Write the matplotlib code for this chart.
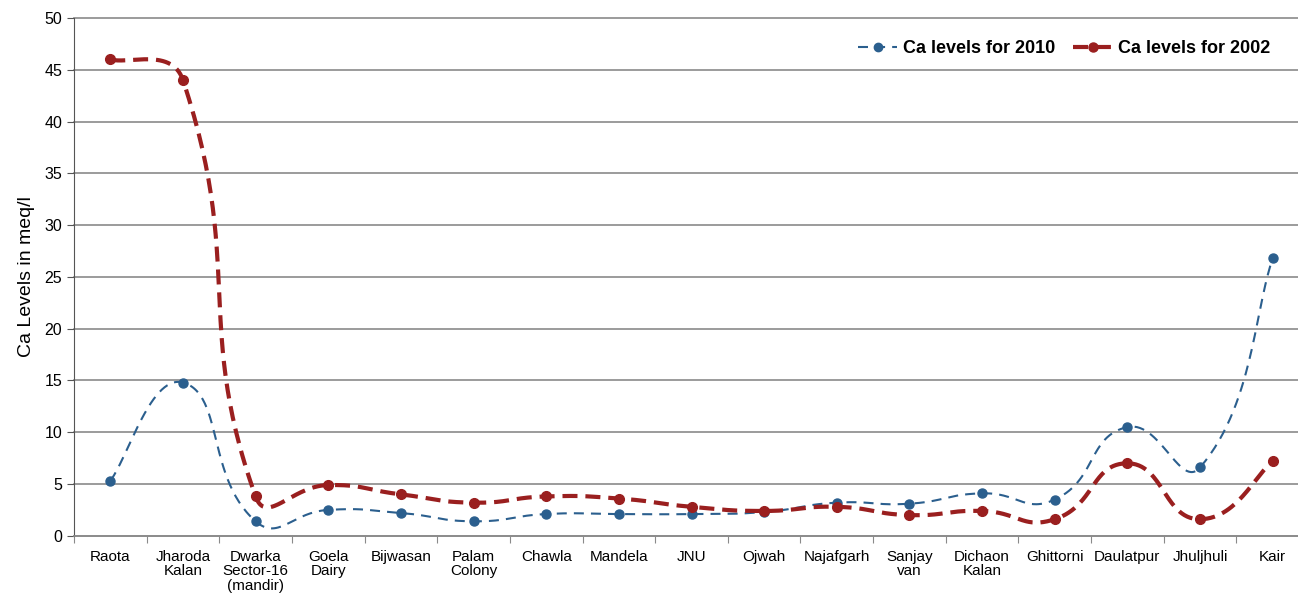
import numpy as np
import matplotlib.pyplot as plt
from matplotlib.lines import Line2D

plt.rcParams['font.family'] = ['Liberation Sans', 'DejaVu Sans']

sites = ['Raota', 'Jharoda\nKalan', 'Dwarka\nSector-16\n(mandir)', 'Goela\nDairy', 'Bijwasan',
         'Palam\nColony', 'Chawla', 'Mandela', 'JNU', 'Ojwah', 'Najafgarh', 'Sanjay\nvan',
         'Dichaon\nKalan', 'Ghittorni', 'Daulatpur', 'Jhuljhuli', 'Kair']
ca_2010 = [5.3, 14.8, 1.4, 2.5, 2.2, 1.4, 2.1, 2.1, 2.1, 2.3, 3.2, 3.1, 4.1, 3.5, 10.5, 6.6, 26.8]
ca_2002 = [46.0, 44.0, 3.8, 4.9, 4.0, 3.2, 3.8, 3.6, 2.8, 2.4, 2.8, 2.0, 2.4, 1.6, 7.0, 1.6, 7.2]


def smooth(ax, x, y, tension=0.5, n=60):
    # bezier smoothing in screen space, tangents scaled by neighbouring chord lengths
    pts = ax.transData.transform(np.column_stack([x, y]))
    m = len(pts)
    c_in = pts.copy()
    c_out = pts.copy()
    for i in range(m):
        prv = pts[max(i - 1, 0)]
        nxt = pts[min(i + 1, m - 1)]
        d0 = np.hypot(*(pts[i] - prv))
        d1 = np.hypot(*(nxt - pts[i]))
        if d0 + d1 == 0:
            continue
        tan = nxt - prv
        c_in[i] = pts[i] - tension * d0 / (d0 + d1) * tan * (0.5 if i == m - 1 else 1)
        c_out[i] = pts[i] + tension * d1 / (d0 + d1) * tan * (0.5 if i == 0 else 1)
    t = np.linspace(0, 1, n)[:, None]
    segs = []
    for i in range(m - 1):
        p0, c1, c2, p3 = pts[i], c_out[i], c_in[i + 1], pts[i + 1]
        b = (1 - t) ** 3 * p0 + 3 * (1 - t) ** 2 * t * c1 + 3 * (1 - t) * t ** 2 * c2 + t ** 3 * p3
        segs.append(b if i == 0 else b[1:])
    curve = ax.transData.inverted().transform(np.vstack(segs))
    return curve[:, 0], curve[:, 1]


blue = '#2b5f8e'
red = '#9a1f1f'
grid_col = '#8a8a8a'
pos = np.arange(len(sites))

fig = plt.figure(figsize=(12.98, 6), dpi=100)
ax = fig.add_axes([0.057, 0.107, 0.9515, 0.863])
ax.set_xlim(-0.5, len(sites) - 0.5)
ax.set_ylim(0, 50)

blue_dash = (4.8, 3.4)
red_dash = (3.6, 1.9)

sx, sy = smooth(ax, pos, ca_2010)
ax.plot(sx, sy, color=blue, lw=1.5, dashes=blue_dash, zorder=3)
ax.plot(pos, ca_2010, 'o', color=blue, ms=6.5, zorder=4)

sx, sy = smooth(ax, pos, ca_2002)
ax.plot(sx, sy, color=red, lw=3, dashes=red_dash, zorder=3)
ax.plot(pos, ca_2002, 'o', color=red, ms=7, zorder=4)

ax.set_yticks(np.arange(0, 51, 5))
ax.yaxis.grid(True, color=grid_col, lw=1.2)
for gl in ax.yaxis.get_gridlines():
    gl.set_clip_on(False)
ax.set_axisbelow(True)

ax.set_xticks(np.arange(-0.5, len(sites), 1))
ax.set_xticklabels([])
ax.set_xticks(pos, minor=True)
ax.set_xticklabels(sites, minor=True, fontsize=11, linespacing=1.05)
ax.tick_params(axis='x', which='major', direction='out', length=5, color=grid_col)
ax.tick_params(axis='x', which='minor', length=0, pad=10)
ax.tick_params(axis='y', direction='out', length=5, color='#555555', labelsize=11.5)

for s in ['top', 'right']:
    ax.spines[s].set_visible(False)
ax.spines['left'].set_color('#555555')
ax.spines['bottom'].set_color(grid_col)
ax.spines['bottom'].set_linewidth(1.2)

ax.set_ylabel('Ca Levels in meq/l', fontsize=14, labelpad=7)

handles = [
    Line2D([], [], color=blue, lw=1.5, dashes=blue_dash, marker='o', ms=6),
    Line2D([], [], color=red, lw=3, dashes=red_dash, marker='o', ms=6.5),
]
ax.legend(handles, ['Ca levels for 2010', 'Ca levels for 2002'], loc='upper right',
          ncol=2, frameon=False, prop={'weight': 'bold', 'size': 13},
          bbox_to_anchor=(0.982, 0.988), handlelength=2.2, columnspacing=1.0, handletextpad=0.3)

fig.savefig('out.png', dpi=100)
